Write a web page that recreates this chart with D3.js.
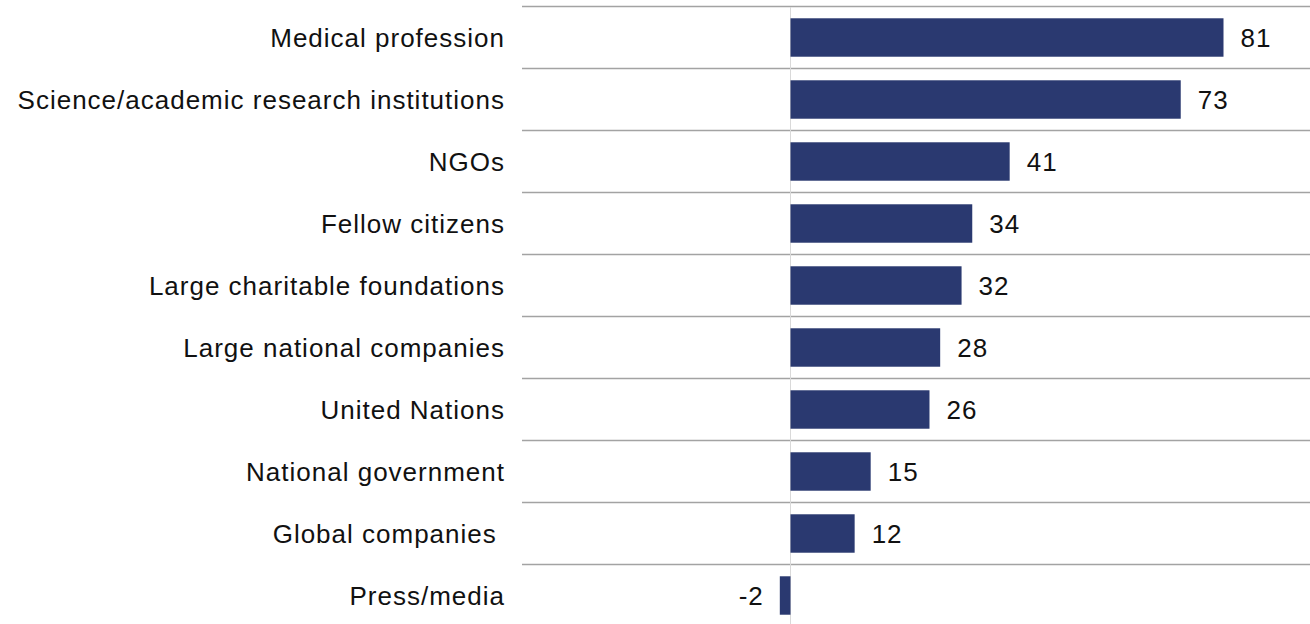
<!DOCTYPE html>
<html><head><meta charset="utf-8">
<script src="https://cdn.jsdelivr.net/npm/d3@7"></script>
<style>body{margin:0;background:#fff}svg{display:block}text{white-space:pre}</style>
</head><body>
<svg id="c" width="1310" height="624"></svg>
<script>
const categories = ["Medical profession","Science/academic research institutions","NGOs","Fellow citizens","Large charitable foundations","Large national companies","United Nations","National government","Global companies ","Press/media"];
const values = [81,73,41,34,32,28,26,15,12,-2];

const svg = d3.select("#c");
const W = 1310;
const y = d3.scaleBand().domain(categories).range([6.5, 626.5]).paddingInner(0.38).paddingOuter(0.19);
const x = d3.scaleLinear().domain([0, 81]).range([790.5, 1223.5]);

const step = y.step();
const bounds = d3.range(categories.length + 1).map(i => 6.5 + i * step);
svg.selectAll("line.grid").data(bounds).join("line")
  .attr("x1", 522).attr("x2", W).attr("y1", d => d).attr("y2", d => d)
  .attr("stroke", "#a3a3a3").attr("stroke-width", 1.6);

svg.append("line").attr("x1", x(0)).attr("x2", x(0)).attr("y1", 7).attr("y2", 624)
  .attr("stroke", "#d9d9d9").attr("stroke-width", 1);

const data = categories.map((c, i) => ({c, v: values[i]}));
svg.selectAll("rect.bar").data(data).join("rect")
  .attr("x", d => Math.min(x(0), x(d.v)))
  .attr("width", d => Math.abs(x(d.v) - x(0)))
  .attr("y", d => y(d.c)).attr("height", y.bandwidth())
  .attr("fill", "#2a3970");

const font = "Liberation Sans, Arial, sans-serif";
svg.selectAll("text.val").data(data).join("text")
  .attr("x", d => d.v >= 0 ? x(d.v) + 17 : x(d.v) - 16)
  .attr("y", d => y(d.c) + y.bandwidth() / 2)
  .attr("dy", "0.35em")
  .attr("text-anchor", d => d.v >= 0 ? "start" : "end")
  .attr("font-family", font).attr("font-size", 26).attr("letter-spacing", 1)
  .attr("fill", "#111")
  .text(d => d.v);

svg.selectAll("text.cat").data(data).join("text")
  .attr("x", 505)
  .attr("y", d => y(d.c) + y.bandwidth() / 2)
  .attr("dy", "0.35em")
  .attr("text-anchor", "end")
  .attr("font-family", font).attr("font-size", 26).attr("letter-spacing", 1)
  .attr("fill", "#111")
  .text(d => d.c);
</script>
</body></html>
